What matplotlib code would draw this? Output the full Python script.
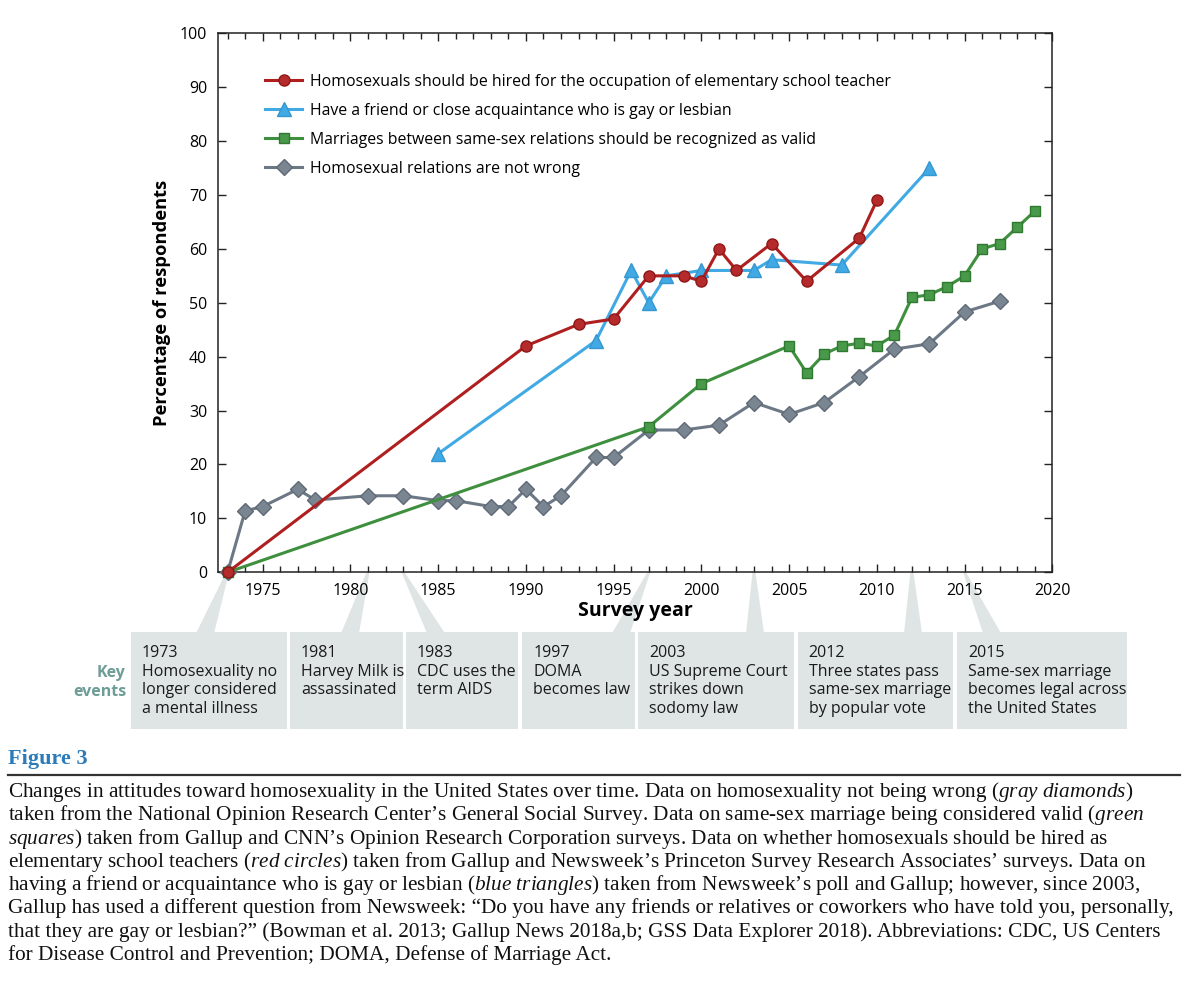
import numpy as np
import matplotlib.pyplot as plt
from matplotlib.patches import Polygon, Rectangle
from matplotlib.lines import Line2D
from matplotlib.ticker import MultipleLocator

plt.rcParams['font.family'] = ['Open Sans', 'DejaVu Sans']
plt.rcParams['mathtext.fontset'] = 'custom'
plt.rcParams['mathtext.rm'] = 'Liberation Serif'
plt.rcParams['mathtext.it'] = 'Liberation Serif:italic'

# --- data ---
teacher_years = [1973, 1990, 1993, 1995, 1997, 1999, 2000, 2001, 2002, 2004, 2006, 2009, 2010]
teacher_pct = [0, 42, 46, 47, 55, 55, 54, 60, 56, 61, 54, 62, 69]

friend_years = [1985, 1994, 1996, 1997, 1998, 2000, 2003, 2004, 2008, 2013]
friend_pct = [22, 43, 56, 50, 55, 56, 56, 58, 57, 75]

marriage_years = [1973, 1997, 2000, 2005, 2006, 2007, 2008, 2009, 2010, 2011, 2012, 2013, 2014,
                  2015, 2016, 2017, 2018, 2019]
marriage_pct = [0, 27, 35, 42, 37, 40.5, 42, 42.5, 42, 44, 51, 51.5, 53, 55, 60, 61, 64, 67]

notwrong_years = [1973, 1974, 1975, 1977, 1978, 1981, 1983, 1985, 1986, 1988, 1989, 1990, 1991,
                  1992, 1994, 1995, 1997, 1999, 2001, 2003, 2005, 2007, 2009, 2011, 2013, 2015, 2017]
notwrong_pct = [0, 11.4, 12.2, 15.4, 13.4, 14.2, 14.2, 13.3, 13.3, 12.2, 12.2, 15.4, 12.2,
                14.2, 21.3, 21.3, 26.4, 26.4, 27.3, 31.5, 29.3, 31.5, 36.3, 41.4, 42.4, 48.3, 50.3]

legend_labels = ['Homosexuals should be hired for the occupation of elementary school teacher',
                 'Have a friend or close acquaintance who is gay or lesbian',
                 'Marriages between same-sex relations should be recognized as valid',
                 'Homosexual relations are not wrong']

event_years = [1973, 1981, 1983, 1997, 2003, 2012, 2015]
event_text = ['Homosexuality no\nlonger considered\na mental illness',
              'Harvey Milk is\nassassinated',
              'CDC uses the\nterm AIDS',
              'DOMA\nbecomes law',
              'US Supreme Court\nstrikes down\nsodomy law',
              'Three states pass\nsame-sex marriage\nby popular vote',
              'Same-sex marriage\nbecomes legal across\nthe United States']

caption_lines = [
    r'Changes in attitudes toward homosexuality in the United States over time. Data on homosexuality not being wrong ($\mathit{gray\ diamonds}$)',
    r'taken from the National Opinion Research Center’s General Social Survey. Data on same-sex marriage being considered valid ($\mathit{green}$',
    r'$\mathit{squares}$) taken from Gallup and CNN’s Opinion Research Corporation surveys. Data on whether homosexuals should be hired as',
    r'elementary school teachers ($\mathit{red\ circles}$) taken from Gallup and Newsweek’s Princeton Survey Research Associates’ surveys. Data on',
    r'having a friend or acquaintance who is gay or lesbian ($\mathit{blue\ triangles}$) taken from Newsweek’s poll and Gallup; however, since 2003,',
    'Gallup has used a different question from Newsweek: “Do you have any friends or relatives or coworkers who have told you, personally,',
    'that they are gay or lesbian?” (Bowman et al. 2013; Gallup News 2018a,b; GSS Data Explorer 2018). Abbreviations: CDC, US Centers',
    'for Disease Control and Prevention; DOMA, Defense of Marriage Act.',
]

W, H = 1200, 998
fig = plt.figure(figsize=(W / 100, H / 100), dpi=100)


def fx(px):
    return px / W


def fy(py):
    return 1 - py / H


ax = fig.add_axes([fx(218.3), fy(572.3), fx(1052.3 - 218.3), (572.3 - 33.3) / H])

red, blue, green, gray = '#b01f1f', '#41a9e4', '#3e8f3e', '#6d7886'
ax.plot(notwrong_years, notwrong_pct, color=gray, lw=2.2, marker='D', ms=8,
        mfc='#7a8592', mec='#5f6a76', clip_on=False, zorder=3, label=legend_labels[3])
ax.plot(marriage_years, marriage_pct, color=green, lw=2.2, marker='s', ms=7.5,
        mfc='#48994a', mec='#2f7a30', clip_on=False, zorder=4, label=legend_labels[2])
ax.plot(friend_years, friend_pct, color=blue, lw=2.2, marker='^', ms=10,
        mfc=blue, mec='#3597d0', clip_on=False, zorder=5, label=legend_labels[1])
ax.plot(teacher_years, teacher_pct, color=red, lw=2.2, marker='o', ms=8,
        mfc='#b52a2a', mec='#8e1818', clip_on=False, zorder=6, label=legend_labels[0])

ax.set_xlim(1972.47, 2020)
ax.set_ylim(0, 100)
ax.xaxis.set_major_locator(MultipleLocator(5))
ax.xaxis.set_minor_locator(MultipleLocator(1))
ax.yaxis.set_major_locator(MultipleLocator(10))
ax.tick_params(which='both', direction='in', top=True, right=True, color='#222222', width=1.0)
ax.tick_params(which='major', length=6, labelsize=11.5, pad=8)
ax.tick_params(which='minor', length=4)
for s in ax.spines.values():
    s.set_color('#222222')
    s.set_linewidth(1.1)

ax.set_xlabel('Survey year', fontsize=14, fontweight='bold', labelpad=1)
ax.set_ylabel('Percentage of respondents', fontsize=13.2, fontweight='bold', labelpad=6)

h, l = ax.get_legend_handles_labels()
ax.legend(h[::-1], l[::-1], loc='upper left', bbox_to_anchor=(0.056, 0.925), frameon=False,
          fontsize=11.4, handlelength=2.35, handletextpad=0.5, labelspacing=0.82, borderpad=0,
          borderaxespad=0)

# --- key events boxes with wedges pointing at the axis ---
box_color = '#dfe5e5'
box_left = [130.7, 290, 406, 522.3, 638.3, 797.7, 957.3]
box_right = [286.7, 402.7, 518.3, 635, 794, 953.3, 1126.7]
base_mid = [205, 350, 436, 621, 755, 913, 992]
box_top, box_bot = 632.3, 729.3

fig.canvas.draw()
inv = fig.transFigure.inverted()
for i, yr in enumerate(event_years):
    tip = inv.transform(ax.transData.transform((yr, 0)))
    poly = Polygon([(tip[0] - fx(1.5), tip[1]), (tip[0] + fx(1.5), tip[1]),
                    (fx(base_mid[i] + 9), fy(box_top + 1)), (fx(base_mid[i] - 9), fy(box_top + 1))],
                   closed=True, transform=fig.transFigure, facecolor=box_color,
                   edgecolor='none', zorder=-1)
    fig.add_artist(poly)
    rect = Rectangle((fx(box_left[i]), fy(box_bot)), fx(box_right[i] - box_left[i]),
                     (box_bot - box_top) / H, transform=fig.transFigure,
                     facecolor=box_color, edgecolor='none', zorder=-1)
    fig.add_artist(rect)
    fig.text(fx(box_left[i] + 11), fy(645), f'{yr}\n{event_text[i]}', ha='left', va='top',
             fontsize=11.5, color='#1a1a1a', linespacing=1.22)

fig.text(fx(126), fy(665), 'Key\nevents', ha='right', va='top', fontsize=11.5,
         fontweight='bold', color='#6e9d97', linespacing=1.22)

# --- figure caption ---
fig.text(fx(8), fy(764), 'Figure 3', ha='left', va='baseline', fontsize=16,
         fontfamily='Liberation Serif', fontweight='bold', color='#2b7bba')
fig.add_artist(Line2D([fx(8), fx(1180)], [fy(775), fy(775)], transform=fig.transFigure,
                      color='#333333', lw=1.6))
for i, line in enumerate(caption_lines):
    fig.text(fx(8), fy(797 + i * 23.3), line, ha='left', va='baseline', fontsize=15.3,
             fontfamily='Liberation Serif', color='#111111')

fig.savefig('out.png', dpi=100)
